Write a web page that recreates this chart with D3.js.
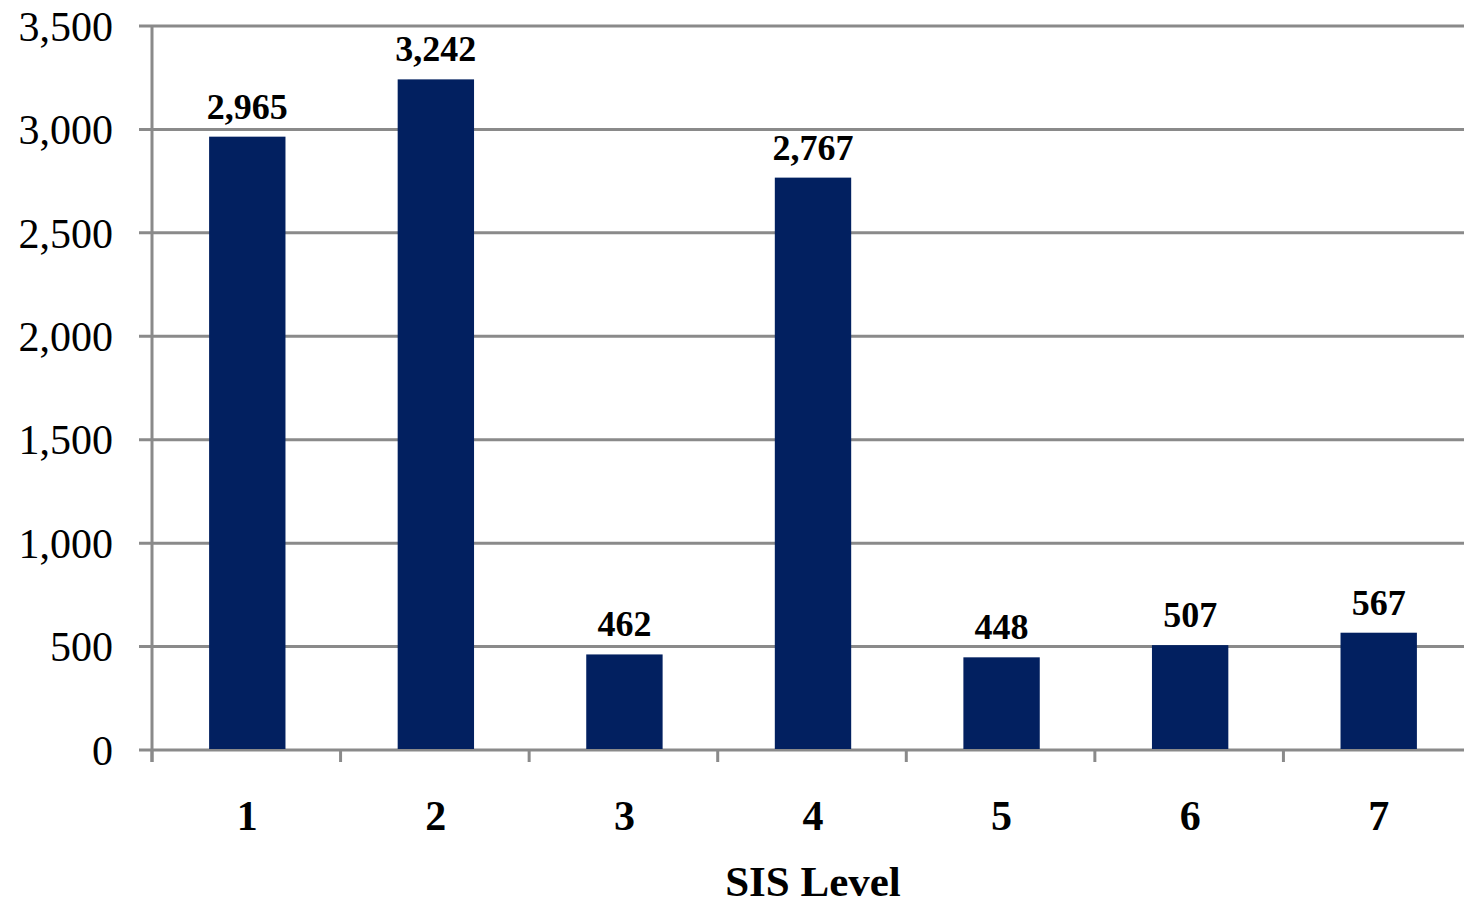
<!DOCTYPE html>
<html><head><meta charset="utf-8">
<script src="https://cdn.jsdelivr.net/npm/d3@7"></script>
<style>
html,body{margin:0;padding:0;background:#fff;}
svg{display:block;}
</style></head>
<body>
<svg id="chart" width="1464" height="906"></svg>
<script>
const categories = ["1","2","3","4","5","6","7"];
const values = [2965, 3242, 462, 2767, 448, 507, 567];
const yTicks = [0, 500, 1000, 1500, 2000, 2500, 3000, 3500];
const xTitle = "SIS Level";

(function () {
const svg = d3.select("#chart");
const mLeft = 152, mRight = 1472, mTop = 26, mBottom = 750;
const gridColor = "#8a8a8a";
const barColor = "#022060";
const font = "'Liberation Serif','Times New Roman',serif";

const x = d3.scaleBand().domain(categories).range([mLeft, mRight]).padding(0);
const y = d3.scaleLinear().domain([0, 3500]).range([mBottom, mTop]);

// gridlines
svg.append("g").selectAll("line").data(yTicks).join("line")
  .attr("x1", mLeft - 13).attr("x2", mRight)
  .attr("y1", d => y(d)).attr("y2", d => y(d))
  .attr("stroke", gridColor).attr("stroke-width", 3);

// y axis line
svg.append("line").attr("x1", mLeft).attr("x2", mLeft)
  .attr("y1", y(3500) - 1).attr("y2", mBottom + 12)
  .attr("stroke", gridColor).attr("stroke-width", 3);

// x ticks at band boundaries
const boundaries = categories.map(c => x(c)).concat([mRight]);
svg.append("g").selectAll("line").data(boundaries).join("line")
  .attr("x1", d => d).attr("x2", d => d)
  .attr("y1", mBottom).attr("y2", mBottom + 12)
  .attr("stroke", gridColor).attr("stroke-width", 3);

// bars
const bw = x.bandwidth() * 0.405;
svg.append("g").selectAll("rect").data(values).join("rect")
  .attr("x", (d, i) => x(categories[i]) + x.bandwidth() / 2 - bw / 2 + 1)
  .attr("width", bw)
  .attr("y", d => y(d))
  .attr("height", d => mBottom - y(d) - 1)
  .attr("fill", barColor);

// data labels
const fmt = d3.format(",");
svg.append("g").selectAll("text").data(values).join("text")
  .attr("x", (d, i) => x(categories[i]) + x.bandwidth() / 2 + 1)
  .attr("y", d => y(d) - 18)
  .attr("text-anchor", "middle")
  .attr("font-family", font).attr("font-weight", "bold").attr("font-size", 36)
  .attr("fill", "#000")
  .text(d => fmt(d));

// y tick labels
svg.append("g").selectAll("text").data(yTicks).join("text")
  .attr("x", 113).attr("y", d => y(d))
  .attr("dy", "0.35em")
  .attr("text-anchor", "end")
  .attr("font-family", font).attr("font-size", 42)
  .attr("fill", "#000")
  .text(d => fmt(d));

// x tick labels
svg.append("g").selectAll("text").data(categories).join("text")
  .attr("x", d => x(d) + x.bandwidth() / 2 + 1)
  .attr("y", 830)
  .attr("text-anchor", "middle")
  .attr("font-family", font).attr("font-weight", "bold").attr("font-size", 42)
  .attr("fill", "#000")
  .text(d => d);

// x title
svg.append("text")
  .attr("x", 813).attr("y", 896)
  .attr("text-anchor", "middle")
  .attr("font-family", font).attr("font-weight", "bold").attr("font-size", 43)
  .attr("fill", "#000")
  .text(xTitle);
})();
</script>
</body></html>
